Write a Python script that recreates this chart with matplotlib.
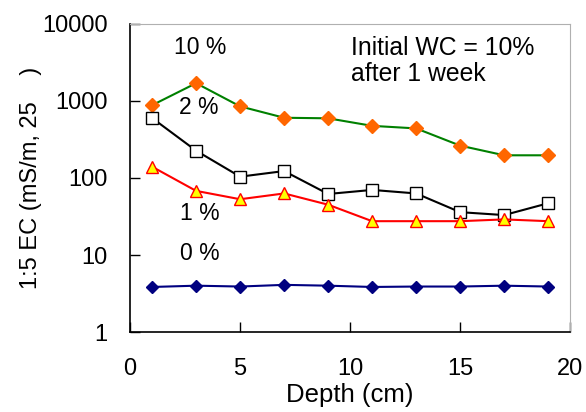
import matplotlib.pyplot as plt

plt.rcParams['font.family'] = ['Liberation Sans', 'DejaVu Sans']

depth = [1, 3, 5, 7, 9, 11, 13, 15, 17, 19]
ec_10 = [880, 1700, 850, 605, 595, 475, 440, 263, 197, 197]
ec_2 = [600, 226, 104, 123, 62, 70, 63, 36, 33, 47]
ec_1 = [140, 68, 53, 63, 45, 27.5, 27.5, 27.5, 29, 27.5]
ec_0 = [3.85, 4.0, 3.9, 4.1, 4.0, 3.85, 3.9, 3.9, 4.0, 3.9]

fig = plt.figure(figsize=(5.86, 4.12), dpi=100)
ax = fig.add_axes([0.222, 0.194, 0.751, 0.748])

ax.plot(depth, ec_10, color='green', lw=1.5, marker='D', ms=7,
        mfc='#ff6600', mec='#ff6600')
ax.plot(depth, ec_2, color='black', lw=1.5, marker='s', ms=9,
        mfc='white', mec='black', mew=1)
ax.plot(depth, ec_1, color='red', lw=1.5, marker='^', ms=8,
        mfc='yellow', mec='red', mew=1)
ax.plot(depth, ec_0, color='#000080', lw=1.5, marker='D', ms=6,
        mfc='#000080', mec='#000080')

ax.set_yscale('log')
ax.set_ylim(1, 10000)
ax.set_xlim(0, 20)
ax.set_xticks([0, 5, 10, 15, 20])
ax.set_yticks([1, 10, 100, 1000, 10000])
ax.set_yticklabels(['1', '10', '100', '1000', '10000'])
ax.minorticks_off()
ax.tick_params(direction='in', length=7, labelsize=17, width=1)
ax.tick_params(axis='x', pad=19)
ax.tick_params(axis='y', pad=16)

for side in ['top', 'right']:
    ax.spines[side].set_color('#b0b0b0')
ax.spines['left'].set_linewidth(1.2)
ax.spines['bottom'].set_linewidth(1.2)

ax.set_xlabel('Depth (cm)', fontsize=18.5, labelpad=2)
ax.set_ylabel('1:5 EC (mS/m, 25    )', fontsize=17, labelpad=0)

ax.text(2.0, 5000, '10 %', fontsize=16.5, va='center')
ax.text(2.23, 830, '2 %', fontsize=16.5, va='center')
ax.text(2.27, 35, '1 %', fontsize=16.5, va='center')
ax.text(2.27, 10.6, '0 %', fontsize=16.5, va='center')
ax.text(10.05, 3300, 'Initial WC = 10%\nafter 1 week', fontsize=17.8,
        va='center', linespacing=1.1)

fig.savefig('out.png', dpi=100)
